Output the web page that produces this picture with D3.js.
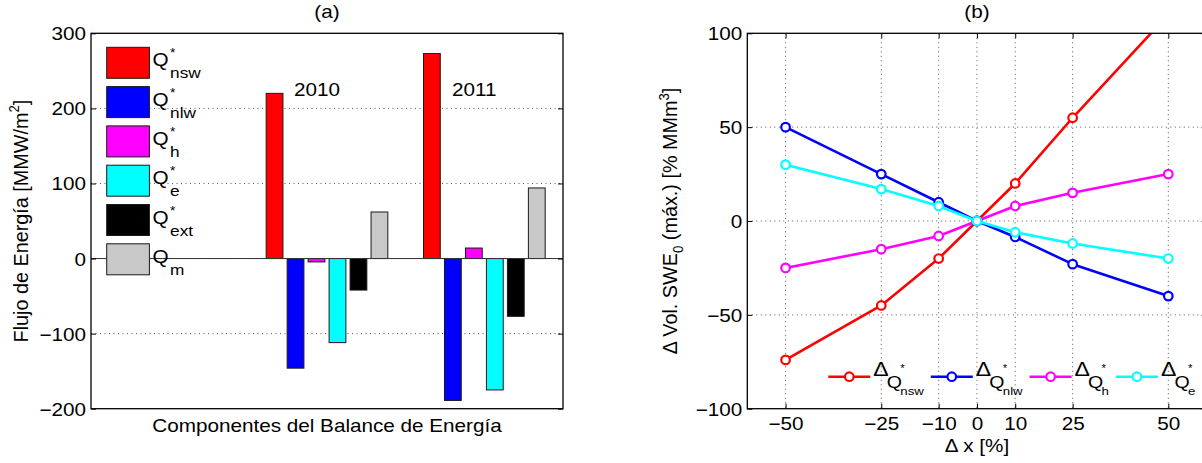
<!DOCTYPE html>
<html>
<head>
<meta charset="utf-8">
<script src="https://cdn.jsdelivr.net/npm/d3@7"></script>
<style>
  body { margin: 0; background: #fff; }
  text { font-family: "Liberation Sans", Arial, Helvetica, sans-serif; fill: #000; }
</style>
</head>
<body>
<svg id="fig" width="1202" height="463"></svg>
<script>
// ---- (a) Energy balance components per year ----
const years = ["2010", "2011"];
const components = ["nsw", "nlw", "h", "e", "ext", "m"];
const componentStar = [true, true, true, true, true, false];
const barColors = ["#ff0000", "#0000ff", "#ff00ff", "#00ffff", "#000000", "#c8c8c8"];
const flux2010 = [220, -146, -4.5, -112, -42, 62];
const flux2011 = [273, -189, 14, -175, -77, 94];
const fluxTicks = [-200, -100, 0, 100, 200, 300];

// ---- (b) Sensitivity of max SWE volume ----
const deltaX = [-50, -25, -10, 0, 10, 25, 50];
const dNsw = [-74, -45, -20, 0, 20, 55, 110];
const dNlw = [50, 25, 10, 0, -8.5, -23, -40];
const dH = [-25, -15, -8, 0, 8, 15, 25];
const dE = [30, 17, 8, 0, -6, -12, -20];
const sweTicks = [-100, -50, 0, 50, 100];
const lineNames = ["nsw", "nlw", "h", "e"];
const lineColors = ["#ff0000", "#0000ff", "#ff00ff", "#00ffff"];

const SX = 1.15;      // horizontal glyph stretch
const FS = 18;        // base font size
const svg = d3.select("#fig");

function label(parent, x, y, str, size, anchor) {
  return parent.append("text")
    .attr("transform", `translate(${x},${y}) scale(${SX},1)`)
    .attr("font-size", size)
    .attr("text-anchor", anchor || "start")
    .text(str);
}
function widthOf(sel) { return sel.node().getComputedTextLength() * SX; }

function dottedGrid(g, lines) {
  g.selectAll(null).data(lines).join("line")
    .attr("x1", d => d[0]).attr("y1", d => d[1])
    .attr("x2", d => d[2]).attr("y2", d => d[3])
    .attr("stroke", "#555").attr("stroke-width", 1)
    .attr("stroke-dasharray", "1,3.5");
}

// ================= Panel (a) =================
const A = { left: 91, right: 563, top: 33.3, bottom: 408.7 };
const ga = svg.append("g");
const ya = d3.scaleLinear().domain([-200, 300]).range([A.bottom, A.top]);
// first slot is left free for the legend
const xa = d3.scaleBand().domain([" ", ...years]).range([A.left, A.right]);
const xin = d3.scaleBand().domain(components).range([0, xa.bandwidth()])
  .paddingInner(0.2).paddingOuter(0.85);

dottedGrid(ga, fluxTicks.filter(t => t > -200 && t < 300)
  .map(t => [A.left, ya(t), A.right, ya(t)]));

const fluxByYear = [flux2010, flux2011];
years.forEach((yr, yi) => {
  ga.append("g").selectAll("rect").data(fluxByYear[yi]).join("rect")
    .attr("x", (d, i) => xa(yr) + xin(components[i]))
    .attr("width", xin.bandwidth())
    .attr("y", d => ya(Math.max(0, d)))
    .attr("height", d => Math.abs(ya(d) - ya(0)))
    .attr("fill", (d, i) => barColors[i])
    .attr("stroke", "#1a1a1a").attr("stroke-width", 1);
});
// bar baseline
ga.append("line").attr("x1", A.left).attr("x2", A.right)
  .attr("y1", ya(0)).attr("y2", ya(0)).attr("stroke", "#333").attr("stroke-width", 1);

// year annotations
years.forEach(yr => {
  label(ga, xa(yr) + xa.bandwidth() / 2 - 10, ya(216), yr, FS, "middle");
});

// axes (a)
const axA = ga.append("g").attr("transform", `translate(${A.left},0)`)
  .call(d3.axisLeft(ya).tickValues(fluxTicks).tickSizeInner(-5).tickSizeOuter(0).tickPadding(5)
    .tickFormat(d => d < 0 ? "\u2212" + Math.abs(d) : d));
axA.select(".domain").remove();
axA.selectAll("line").attr("stroke", "#000");
axA.selectAll("text").attr("font-size", FS).attr("font-family", null)
  .attr("transform", `scale(${SX},1)`).attr("x", -5 / SX).attr("dy", "0.36em");
const axAR = ga.append("g").attr("transform", `translate(${A.right},0)`)
  .call(d3.axisRight(ya).tickValues(fluxTicks).tickSizeInner(-5).tickSizeOuter(0).tickFormat(""));
axAR.select(".domain").remove();
axAR.selectAll("line").attr("stroke", "#000");
ga.append("rect").attr("x", A.left).attr("y", A.top)
  .attr("width", A.right - A.left).attr("height", A.bottom - A.top)
  .attr("fill", "none").attr("stroke", "#000").attr("stroke-width", 1.3);

// legend (a)
const legA = ga.append("g");
components.forEach((c, i) => {
  const top = 47.3 + i * 39.3;
  legA.append("rect").attr("x", 106.7).attr("y", top).attr("width", 42.7).attr("height", 31)
    .attr("fill", barColors[i]).attr("stroke", "#1a1a1a").attr("stroke-width", 1);
  const q = label(legA, 152.5, top + 19, "Q", FS);
  const qx = 152.5 + widthOf(q) + 1.5;
  if (componentStar[i]) label(legA, qx, top + 10, "*", 12);
  label(legA, qx, top + 31, c, 15);
});

// titles and axis labels (a)
label(ga, (A.left + A.right) / 2, 18, "(a)", 18, "middle");
label(ga, (A.left + A.right) / 2, 432, "Componentes del Balance de Energía", FS, "middle");
const yla = ga.append("text")
  .attr("transform", `translate(27.5,${(A.top + A.bottom) / 2}) rotate(-90) scale(1.1,${SX})`)
  .attr("font-size", FS).attr("text-anchor", "middle");
yla.append("tspan").text("Flujo de Energía [MMW/m");
yla.append("tspan").attr("font-size", 12).attr("dy", -7).text("2");
yla.append("tspan").attr("dy", 7).text("]");

// ================= Panel (b) =================
const B = { left: 747.3, right: 1206.6, top: 33.3, bottom: 408.7 };
const gb = svg.append("g");
const xb = d3.scaleLinear().domain([-60, 60]).range([B.left, B.right]);
const yb = d3.scaleLinear().domain([-100, 100]).range([B.bottom, B.top]);
const fmt = d => d < 0 ? "\u2212" + Math.abs(d) : d;

dottedGrid(gb, [
  ...deltaX.map(t => [xb(t), B.top, xb(t), B.bottom]),
  ...sweTicks.filter(t => t > -100 && t < 100).map(t => [B.left, yb(t), B.right, yb(t)])
]);

const axBL = gb.append("g").attr("transform", `translate(${B.left},0)`)
  .call(d3.axisLeft(yb).tickValues(sweTicks).tickSizeInner(-5).tickSizeOuter(0).tickPadding(5).tickFormat(fmt));
axBL.select(".domain").remove();
axBL.selectAll("line").attr("stroke", "#000");
axBL.selectAll("text").attr("font-size", FS).attr("font-family", null)
  .attr("transform", `scale(${SX},1)`).attr("x", -5 / SX).attr("dy", "0.36em");
const axBB = gb.append("g").attr("transform", `translate(0,${B.bottom})`)
  .call(d3.axisBottom(xb).tickValues(deltaX).tickSizeInner(-5).tickSizeOuter(0).tickPadding(9).tickFormat(fmt));
axBB.select(".domain").remove();
axBB.selectAll("line").attr("stroke", "#000");
axBB.selectAll("text").attr("font-size", FS).attr("font-family", null)
  .attr("transform", `scale(${SX},1)`);
const axBT = gb.append("g").attr("transform", `translate(0,${B.top})`)
  .call(d3.axisTop(xb).tickValues(deltaX).tickSizeInner(-5).tickSizeOuter(0).tickFormat(""));
axBT.select(".domain").remove();
axBT.selectAll("line").attr("stroke", "#000");
const axBR = gb.append("g").attr("transform", `translate(${B.right},0)`)
  .call(d3.axisRight(yb).tickValues(sweTicks).tickSizeInner(-5).tickSizeOuter(0).tickFormat(""));
axBR.select(".domain").remove();
axBR.selectAll("line").attr("stroke", "#000");

gb.append("clipPath").attr("id", "clipB").append("rect")
  .attr("x", B.left).attr("y", B.top).attr("width", B.right - B.left).attr("height", B.bottom - B.top);

const seriesB = [dNsw, dNlw, dH, dE];
const line = d3.line().x((d, i) => xb(deltaX[i])).y(d => yb(d));
seriesB.forEach((vals, si) => {
  const g = gb.append("g").attr("clip-path", "url(#clipB)");
  g.append("path").datum(vals).attr("d", line)
    .attr("fill", "none").attr("stroke", lineColors[si]).attr("stroke-width", 2.6)
    .attr("stroke-linejoin", "round");
  g.selectAll("circle").data(vals).join("circle")
    .attr("cx", (d, i) => xb(deltaX[i])).attr("cy", d => yb(d)).attr("r", 4.3)
    .attr("fill", "#fff").attr("stroke", lineColors[si]).attr("stroke-width", 2.2);
});

gb.append("rect").attr("x", B.left).attr("y", B.top)
  .attr("width", B.right - B.left).attr("height", B.bottom - B.top)
  .attr("fill", "none").attr("stroke", "#000").attr("stroke-width", 1.3);

// legend (b)
const legB = gb.append("g");
let lx = 828.3;
const ly = 376.7;
lineNames.forEach((nm, i) => {
  legB.append("line").attr("x1", lx).attr("x2", lx + 42).attr("y1", ly).attr("y2", ly)
    .attr("stroke", lineColors[i]).attr("stroke-width", 2.6);
  legB.append("circle").attr("cx", lx + 21).attr("cy", ly).attr("r", 4.3)
    .attr("fill", "#fff").attr("stroke", lineColors[i]).attr("stroke-width", 2.2);
  label(legB, lx + 45, 376, "\u0394", 20);
  label(legB, lx + 58.5, 387.5, "Q", 17);
  const qx = lx + 72;
  label(legB, qx, 372, "*", 10);
  const s = label(legB, qx, 394.5, nm, 11.5);
  lx = qx + widthOf(s) + 7;
});

// titles and axis labels (b)
label(gb, (B.left + B.right) / 2, 18, "(b)", 18, "middle");
label(gb, (B.left + B.right) / 2, 452, "\u0394 x [%]", FS, "middle");
const ylb = gb.append("text")
  .attr("transform", `translate(677,${(B.top + B.bottom) / 2}) rotate(-90) scale(1.1,${SX})`)
  .attr("font-size", FS).attr("text-anchor", "middle");
ylb.append("tspan").text("\u0394 Vol. SWE");
ylb.append("tspan").attr("font-size", 12).attr("dy", 5).text("0");
ylb.append("tspan").attr("dy", -5).text(" (máx.) [% MMm");
ylb.append("tspan").attr("font-size", 12).attr("dy", -7).text("3");
ylb.append("tspan").attr("dy", 7).text("]");
</script>
</body>
</html>
